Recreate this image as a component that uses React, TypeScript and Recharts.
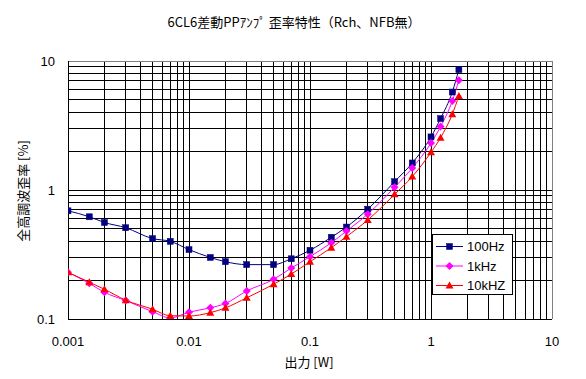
import {
  LineChart, Line, XAxis, YAxis, Legend, ReferenceLine,
} from "recharts";

// output power [W]
const POWER = [0.001, 0.0015, 0.002, 0.003, 0.005, 0.007, 0.01, 0.015, 0.02, 0.03, 0.05, 0.07, 0.1, 0.15, 0.2, 0.3, 0.5, 0.7, 1.0, 1.2, 1.5, 1.7];

// THD [%]
const THD_100HZ = [0.69, 0.62, 0.56, 0.51, 0.42, 0.40, 0.345, 0.30, 0.278, 0.264, 0.264, 0.293, 0.341, 0.43, 0.516, 0.71, 1.16, 1.62, 2.58, 3.58, 5.75, 8.58];
const THD_1KHZ = [0.23, 0.189, 0.161, 0.139, 0.114, 0.102, 0.113, 0.122, 0.132, 0.165, 0.203, 0.248, 0.304, 0.39, 0.48, 0.65, 1.05, 1.48, 2.31, 3.1, 4.9, 7.09];
const THD_10KHZ = [0.23, 0.193, 0.17, 0.14, 0.119, 0.106, 0.1055, 0.112, 0.122, 0.146, 0.186, 0.223, 0.278, 0.357, 0.435, 0.585, 0.925, 1.27, 1.96, 2.54, 3.87, 5.36];

const X_TICKS = [0.001, 0.01, 0.1, 1, 10];
const Y_TICKS = [0.1, 1, 10];
const MULT = [1, 2, 3, 4, 5, 6, 7, 8, 9];

// log grid, edges left out (axis lines / grey frame draw those)
const X_GRID = [0.001, 0.01, 0.1, 1].flatMap(d => MULT.map(m => +(m * d).toPrecision(3))).filter(v => v > 0.001);
const Y_GRID = [0.1, 1].flatMap(d => MULT.map(m => +(m * d).toPrecision(3))).filter(v => v > 0.1);

const data = POWER.map((p, i) => ({
  p,
  hz100: THD_100HZ[i],
  khz1: THD_1KHZ[i],
  khz10: THD_10KHZ[i],
}));

type Shape = "square" | "diamond" | "triangle";

const SERIES: { key: string; name: string; color: string; shape: Shape }[] = [
  { key: "hz100", name: "100Hz", color: "#000080", shape: "square" },
  { key: "khz1", name: "1kHz", color: "#FF00FF", shape: "diamond" },
  { key: "khz10", name: "10kHZ", color: "#FF0000", shape: "triangle" },
];

function Marker({ cx, cy, shape, color }: { cx: number; cy: number; shape: Shape; color: string }) {
  if (shape === "square") {
    return <rect x={cx - 3} y={cy - 3} width={6} height={6} fill={color} stroke={color} strokeWidth={0.5} />;
  }
  if (shape === "diamond") {
    return <polygon points={`${cx},${cy - 4} ${cx + 4},${cy} ${cx},${cy + 4} ${cx - 4},${cy}`} fill={color} />;
  }
  return <polygon points={`${cx},${cy - 4} ${cx + 4},${cy + 3} ${cx - 4},${cy + 3}`} fill={color} />;
}

const font = '"Liberation Sans", Arial, sans-serif';
const cjk = '"Noto Sans CJK JP", sans-serif';

function LegendBox() {
  return (
    <svg width={81} height={61} style={{ display: "block" }}>
      <rect x={0.5} y={0.5} width={80} height={60} fill="#fff" stroke="#000" />
      {SERIES.map((s, i) => {
        const y = 12.5 + i * 19.5;
        return (
          <g key={s.key}>
            <line x1={4} x2={31} y1={y} y2={y} stroke={s.color} strokeWidth={1} />
            <Marker cx={17.5} cy={y} shape={s.shape} color={s.color} />
            <text x={35} y={y} dy="0.36em" fontSize={13} fontFamily={font} fill="#000">{s.name}</text>
          </g>
        );
      })}
    </svg>
  );
}

export default function App() {
  return (
    <div style={{ position: "absolute", left: 0, top: 0, width: 586, height: 379, background: "#fff" }}>
      <div
        style={{
          position: "absolute", left: 0, top: 14, width: 588, textAlign: "center",
          fontSize: 13, lineHeight: "15px", fontFamily: cjk, color: "#000",
        }}
      >
        6CL6差動PPｱﾝﾌﾟ 歪率特性（Rch、NFB無）
      </div>
      <LineChart width={586} height={379} data={data} margin={{ top: 61, right: 34, bottom: 30, left: 0 }}>
        {X_GRID.map(v => (
          <ReferenceLine key={`gx${v}`} x={v} stroke="#000" strokeWidth={1} shapeRendering="crispEdges" />
        ))}
        {Y_GRID.map(v => (
          <ReferenceLine key={`gy${v}`} y={v} stroke="#000" strokeWidth={1} shapeRendering="crispEdges" />
        ))}
        <ReferenceLine x={10} stroke="#808080" shapeRendering="crispEdges" />
        <ReferenceLine y={10} stroke="#808080" shapeRendering="crispEdges" />
        <XAxis
          dataKey="p"
          type="number"
          scale="log"
          domain={[0.001, 10]}
          ticks={X_TICKS}
          allowDataOverflow
          height={30}
          tickLine={false}
          tickSize={0}
          tickMargin={18}
          axisLine={{ stroke: "#000", shapeRendering: "crispEdges" }}
          tick={{ fontSize: 13, fill: "#000", fontFamily: font }}
          tickFormatter={(v: number) => String(v)}
          label={{
            content: () => (
              <text x={309} y={362} dy="0.36em" textAnchor="middle" fontSize={13}
                fontFamily={cjk} fill="#000">出力 [W]</text>
            ),
          }}
        />
        <YAxis
          type="number"
          scale="log"
          domain={[0.1, 10]}
          ticks={Y_TICKS}
          allowDataOverflow
          width={68}
          tickLine={false}
          tickSize={0}
          tickMargin={13}
          axisLine={{ stroke: "#000", shapeRendering: "crispEdges" }}
          tick={{ fontSize: 13, fill: "#000", fontFamily: font }}
          tickFormatter={(v: number) => String(v)}
          label={{
            content: () => (
              <text x={23.5} y={191} dy="0.36em" textAnchor="middle" fontSize={13}
                transform="rotate(-90 23.5 191)"
                fontFamily={cjk} fill="#000">全高調波歪率 [%]</text>
            ),
          }}
        />
        <Legend
          layout="vertical"
          align="center"
          verticalAlign="middle"
          wrapperStyle={{ left: 432, top: 234, width: 81, height: 61 }}
          content={() => <LegendBox />}
        />
        {SERIES.map(s => (
          <Line
            key={s.key}
            dataKey={s.key}
            name={s.name}
            type="monotone"
            stroke={s.color}
            strokeWidth={1}
            isAnimationActive={false}
            dot={(props: any) => (
              <Marker key={`${s.key}-${props.index}`} cx={props.cx} cy={props.cy} shape={s.shape} color={s.color} />
            )}
            activeDot={false}
          />
        ))}
      </LineChart>
    </div>
  );
}
